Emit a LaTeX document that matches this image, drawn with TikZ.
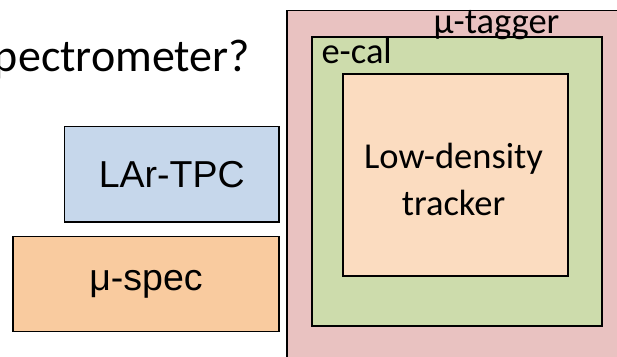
\documentclass[tikz,border=0pt]{standalone}
\usepackage{fontspec}
\setmainfont{Carlito}
\newfontfamily\arialf{Liberation Sans}
\definecolor{pinkc}{HTML}{E9C2C1}
\definecolor{greenc}{HTML}{CDDCAC}
\definecolor{peachc}{HTML}{FBDCC0}
\definecolor{bluec}{HTML}{C6D7EB}
\definecolor{specc}{HTML}{F9CB9F}
\tikzset{
  boxst/.style={draw=black, line width=1.8pt, rectangle, inner sep=0pt, outer sep=0pt, anchor=north west},
  calib/.style={font=\fontsize{36.5}{47}\selectfont, inner sep=0pt, outer sep=0pt},
  arialt/.style={font=\arialf\fontsize{37.5}{44}\selectfont},
}
\begin{document}
\begin{tikzpicture}[x=1pt,y=-1pt]
\useasboundingbox (0,0) rectangle (617,356);
\clip (0,0) rectangle (617,356);
\node[boxst, fill=pinkc, minimum width=360pt, minimum height=380pt] (tagger) at (287,10.5) {};
\node[boxst, fill=greenc, minimum width=290pt, minimum height=289.3pt] (ecal) at (311.7,36.7) {};
\node[boxst, fill=peachc, minimum width=225pt, minimum height=202pt] (tracker) at (342.7,74) {};
\node[boxst, fill=bluec, minimum width=214.5pt, minimum height=95.5pt, arialt] (lar) at (64.5,126.5) {LAr-TPC};
\node[boxst, fill=specc, minimum width=266.5pt, minimum height=95pt, arialt] (muspec) at (12.8,236.5) {μ-spec};
\node[calib, anchor=base] (taggerlbl) at (496.5,33) {μ-tagger};
\node[calib, anchor=base west] (ecallbl) at (321.5,63.3) {e-cal};
\node[calib, align=center] (trackerlbl) at (453.5,179.5) {Low-density\\tracker};
\node[calib, font=\fontsize{46}{52}\selectfont, anchor=base east] (question) at (250,71.7) {pectrometer?};
\end{tikzpicture}
\end{document}
